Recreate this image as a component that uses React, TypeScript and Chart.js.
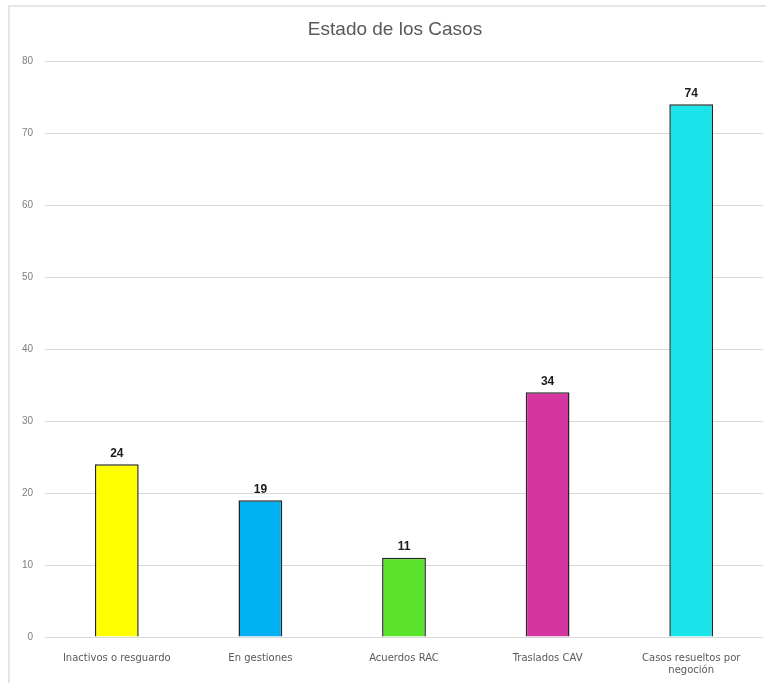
import React, { useEffect, useRef } from "react";
import { Chart, registerables } from "chart.js";

Chart.register(...registerables);

const chartTitle = "Estado de los Casos";
const categories: (string | string[])[] = [
  "Inactivos o resguardo",
  "En gestiones",
  "Acuerdos RAC",
  "Traslados CAV",
  ["Casos resueltos por", "negoción"],
];
const values = [24, 19, 11, 34, 74];
const barColors = ["#FFFF00", "#00B0F0", "#5BE22A", "#D535A0", "#1CE4EB"];
const yTicksMax = 80;
const yTicksStep = 10;

const valueLabelPlugin = {
  id: "valueLabels",
  afterDatasetsDraw(chart: any) {
    const ctx = chart.ctx;
    const meta = chart.getDatasetMeta(0);
    ctx.save();
    ctx.font = "bold 12px 'Liberation Sans', Arial, sans-serif";
    ctx.fillStyle = "#1a1a1a";
    ctx.textAlign = "center";
    ctx.textBaseline = "bottom";
    meta.data.forEach((bar: any, i: number) => {
      const v = chart.data.datasets[0].data[i];
      ctx.fillText(String(v), bar.x, bar.y - 5);
    });
    ctx.restore();
  },
};

const titlePlugin = {
  id: "customTitle",
  afterDraw(chart: any) {
    const ctx = chart.ctx;
    ctx.save();
    ctx.font = "19px 'Liberation Sans', Arial, sans-serif";
    ctx.fillStyle = "#595959";
    ctx.textAlign = "center";
    ctx.textBaseline = "middle";
    ctx.fillText(chartTitle, 395, 30);
    ctx.restore();
  },
};

export default function App() {
  const canvasRef = useRef<HTMLCanvasElement | null>(null);

  useEffect(() => {
    if (!canvasRef.current) return;
    const chart = new Chart(canvasRef.current, {
      type: "bar",
      data: {
        labels: categories,
        datasets: [
          {
            data: values,
            backgroundColor: barColors,
            borderColor: "#262626",
            borderWidth: 1.5,
            categoryPercentage: 1,
            barPercentage: 0.305,
          },
        ],
      },
      options: {
        animation: false,
        responsive: false,
        maintainAspectRatio: false,
        layout: { padding: { left: 0, right: 3, top: 61, bottom: 0 } },
        plugins: {
          legend: { display: false },
          tooltip: { enabled: false },
          title: { display: false },
        },
        scales: {
          x: {
            grid: { display: false, drawTicks: false },
            border: { display: false },
            ticks: {
              color: "#595959",
              font: { family: "'DejaVu Sans', sans-serif", size: 10 },
              padding: 15,
              maxRotation: 0,
              autoSkip: false,
            },
            afterFit: (scale: any) => {
              scale.height = 46;
            },
          },
          y: {
            min: 0,
            max: yTicksMax,
            grid: { color: "#d9d9d9", lineWidth: 1, drawTicks: false },
            border: { display: false },
            ticks: {
              stepSize: yTicksStep,
              color: "#7f7f7f",
              font: { family: "'Liberation Sans', Arial, sans-serif", size: 10 },
              padding: 12,
            },
            afterFit: (scale: any) => {
              scale.width = 45;
            },
          },
        },
      },
      plugins: [valueLabelPlugin, titlePlugin],
    } as any);
    return () => chart.destroy();
  }, []);

  return (
    <div style={{ position: "absolute", left: 0, top: 0, width: 766, height: 683, background: "#ffffff", overflow: "hidden" }}>
      <div
        style={{
          position: "absolute",
          left: 8,
          top: 5,
          width: 800,
          height: 720,
          border: "2px solid #e6e6e6",
          boxSizing: "border-box",
        }}
      />
      <canvas ref={canvasRef} width={766} height={683} style={{ position: "absolute", left: 0, top: 0 }} />
    </div>
  );
}
